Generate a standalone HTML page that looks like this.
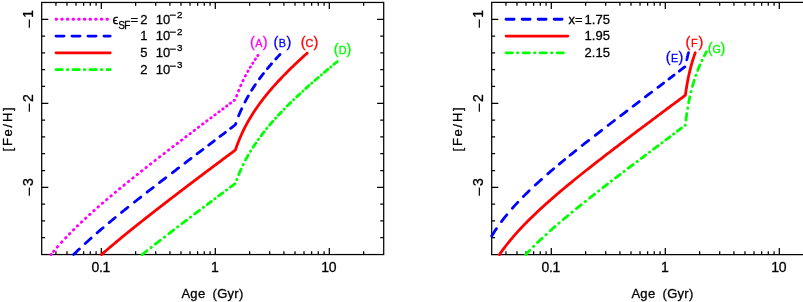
<!DOCTYPE html>
<html><head><meta charset="utf-8"><title>plot</title>
<style>
html,body{margin:0;padding:0;background:#fff;}
body{width:803px;height:302px;overflow:hidden;}
svg{display:block;will-change:transform;}
text{font-family:"Liberation Sans",sans-serif;font-size:13px;fill:#000;stroke:#000;stroke-width:0.3px;}
.tk{font-size:14px;}
.ax{stroke:#000;stroke-width:1.25;fill:none;stroke-linecap:butt;}
.c{fill:none;stroke-width:2.8;stroke-linecap:round;stroke-linejoin:round;}
.mg{stroke:#f0f;} .bl{stroke:#00f;} .rd{stroke:#f00;} .gr{stroke:#0f0;}
.dot{stroke-dasharray:0.7 4.95;}
.dash{stroke-dasharray:8 8;}
.dd{stroke-dasharray:6.3 5 0.5 5.2;}
.sup{font-size:9.8px;}
.sub{font-size:10.1px;}
.mn{font-size:12px;}
.ym{font-size:17px;stroke-width:0;}
.lb{font-size:10.8px;}
.pr{font-size:14.5px;}
</style></head><body>
<svg width="803" height="302" viewBox="0 0 803 302">
<rect width="803" height="302" fill="#fff" stroke="none"/>

<rect class="ax" x="41.70" y="2.45" width="342.00" height="252.10"/>
<path class="ax" d="M55.94 254.55 v-3.40 M55.94 2.45 v3.40 M66.99 254.55 v-3.40 M66.99 2.45 v3.40 M76.02 254.55 v-3.40 M76.02 2.45 v3.40 M83.65 254.55 v-3.40 M83.65 2.45 v3.40 M90.26 254.55 v-3.40 M90.26 2.45 v3.40 M96.09 254.55 v-3.40 M96.09 2.45 v3.40 M101.31 254.55 v-6.60 M101.31 2.45 v6.60 M135.63 254.55 v-3.40 M135.63 2.45 v3.40 M155.70 254.55 v-3.40 M155.70 2.45 v3.40 M169.94 254.55 v-3.40 M169.94 2.45 v3.40 M180.99 254.55 v-3.40 M180.99 2.45 v3.40 M190.02 254.55 v-3.40 M190.02 2.45 v3.40 M197.65 254.55 v-3.40 M197.65 2.45 v3.40 M204.26 254.55 v-3.40 M204.26 2.45 v3.40 M210.09 254.55 v-3.40 M210.09 2.45 v3.40 M215.31 254.55 v-6.60 M215.31 2.45 v6.60 M249.63 254.55 v-3.40 M249.63 2.45 v3.40 M269.70 254.55 v-3.40 M269.70 2.45 v3.40 M283.94 254.55 v-3.40 M283.94 2.45 v3.40 M294.99 254.55 v-3.40 M294.99 2.45 v3.40 M304.02 254.55 v-3.40 M304.02 2.45 v3.40 M311.65 254.55 v-3.40 M311.65 2.45 v3.40 M318.26 254.55 v-3.40 M318.26 2.45 v3.40 M324.09 254.55 v-3.40 M324.09 2.45 v3.40 M329.31 254.55 v-6.60 M329.31 2.45 v6.60 M363.63 254.55 v-3.40 M363.63 2.45 v3.40 M41.70 19.26 h6.60 M383.70 19.26 h-6.60 M41.70 36.06 h3.40 M383.70 36.06 h-3.40 M41.70 52.87 h3.40 M383.70 52.87 h-3.40 M41.70 69.68 h3.40 M383.70 69.68 h-3.40 M41.70 86.48 h3.40 M383.70 86.48 h-3.40 M41.70 103.29 h6.60 M383.70 103.29 h-6.60 M41.70 120.10 h3.40 M383.70 120.10 h-3.40 M41.70 136.90 h3.40 M383.70 136.90 h-3.40 M41.70 153.71 h3.40 M383.70 153.71 h-3.40 M41.70 170.52 h3.40 M383.70 170.52 h-3.40 M41.70 187.32 h6.60 M383.70 187.32 h-6.60 M41.70 204.13 h3.40 M383.70 204.13 h-3.40 M41.70 220.94 h3.40 M383.70 220.94 h-3.40 M41.70 237.74 h3.40 M383.70 237.74 h-3.40"/>
<text class="tk" x="100.81" y="271.6" text-anchor="middle" letter-spacing="-0.35">0.1</text>
<text class="tk" x="214.81" y="271.6" text-anchor="middle" letter-spacing="-0.35">1</text>
<text class="tk" x="328.81" y="271.6" text-anchor="middle" letter-spacing="-0.35">10</text>
<text class="ym" transform="translate(34.50 28.46) rotate(-90)">−</text>
<text class="tk" transform="translate(32.80 17.86) rotate(-90)">1</text>
<text class="ym" transform="translate(34.50 112.49) rotate(-90)">−</text>
<text class="tk" transform="translate(32.80 101.89) rotate(-90)">2</text>
<text class="ym" transform="translate(34.50 196.52) rotate(-90)">−</text>
<text class="tk" transform="translate(32.80 185.92) rotate(-90)">3</text>
<text transform="translate(11.80 128.50) rotate(-90)" text-anchor="middle" letter-spacing="1.75">[Fe/H]</text>
<text x="212.50" y="298" text-anchor="middle" word-spacing="3.2" letter-spacing="0.3">Age (Gyr)</text>
<path class="ax" d="M808.00 2.45 H491.70 V254.55 H808.00"/>
<path class="ax" d="M505.94 254.55 v-3.40 M505.94 2.45 v3.40 M516.99 254.55 v-3.40 M516.99 2.45 v3.40 M526.02 254.55 v-3.40 M526.02 2.45 v3.40 M533.65 254.55 v-3.40 M533.65 2.45 v3.40 M540.26 254.55 v-3.40 M540.26 2.45 v3.40 M546.09 254.55 v-3.40 M546.09 2.45 v3.40 M551.31 254.55 v-6.60 M551.31 2.45 v6.60 M585.63 254.55 v-3.40 M585.63 2.45 v3.40 M605.70 254.55 v-3.40 M605.70 2.45 v3.40 M619.94 254.55 v-3.40 M619.94 2.45 v3.40 M630.99 254.55 v-3.40 M630.99 2.45 v3.40 M640.02 254.55 v-3.40 M640.02 2.45 v3.40 M647.65 254.55 v-3.40 M647.65 2.45 v3.40 M654.26 254.55 v-3.40 M654.26 2.45 v3.40 M660.09 254.55 v-3.40 M660.09 2.45 v3.40 M665.31 254.55 v-6.60 M665.31 2.45 v6.60 M699.63 254.55 v-3.40 M699.63 2.45 v3.40 M719.70 254.55 v-3.40 M719.70 2.45 v3.40 M733.94 254.55 v-3.40 M733.94 2.45 v3.40 M744.99 254.55 v-3.40 M744.99 2.45 v3.40 M754.02 254.55 v-3.40 M754.02 2.45 v3.40 M761.65 254.55 v-3.40 M761.65 2.45 v3.40 M768.26 254.55 v-3.40 M768.26 2.45 v3.40 M774.09 254.55 v-3.40 M774.09 2.45 v3.40 M779.31 254.55 v-6.60 M779.31 2.45 v6.60 M491.70 19.26 h6.60 M491.70 36.06 h3.40 M491.70 52.87 h3.40 M491.70 69.68 h3.40 M491.70 86.48 h3.40 M491.70 103.29 h6.60 M491.70 120.10 h3.40 M491.70 136.90 h3.40 M491.70 153.71 h3.40 M491.70 170.52 h3.40 M491.70 187.32 h6.60 M491.70 204.13 h3.40 M491.70 220.94 h3.40 M491.70 237.74 h3.40"/>
<text class="tk" x="550.81" y="271.6" text-anchor="middle" letter-spacing="-0.35">0.1</text>
<text class="tk" x="664.81" y="271.6" text-anchor="middle" letter-spacing="-0.35">1</text>
<text class="tk" x="778.81" y="271.6" text-anchor="middle" letter-spacing="-0.35">10</text>
<text class="ym" transform="translate(484.50 28.46) rotate(-90)">−</text>
<text class="tk" transform="translate(482.80 17.86) rotate(-90)">1</text>
<text class="ym" transform="translate(484.50 112.49) rotate(-90)">−</text>
<text class="tk" transform="translate(482.80 101.89) rotate(-90)">2</text>
<text class="ym" transform="translate(484.50 196.52) rotate(-90)">−</text>
<text class="tk" transform="translate(482.80 185.92) rotate(-90)">3</text>
<text transform="translate(461.80 128.50) rotate(-90)" text-anchor="middle" letter-spacing="1.75">[Fe/H]</text>
<text x="662.50" y="298" text-anchor="middle" word-spacing="3.2" letter-spacing="0.3">Age (Gyr)</text>
<path class="c mg" d="M51.00 254.60 L52.55 252.69 L54.10 250.82 L55.65 248.99 L57.20 247.18 L58.75 245.42 L60.30 243.67 L61.85 241.96 L63.40 240.28 L64.95 238.61 L66.50 236.97 L68.05 235.36 L69.60 233.76 L71.15 232.18 L72.69 230.62 L74.24 229.08 L75.79 227.55 L77.34 226.04 L78.89 224.55 L80.44 223.07 L81.99 221.60 L83.54 220.14 L85.09 218.70 L86.64 217.27 L88.19 215.85 L89.74 214.44 L91.29 213.04 L92.84 211.65 L94.39 210.27 L95.94 208.89 L97.49 207.53 L99.03 206.17 L100.58 204.83 L102.13 203.48 L103.68 202.15 L105.23 200.82 L106.78 199.50 L108.33 198.19 L109.88 196.88 L111.43 195.58 L112.98 194.28 L114.53 192.99 L116.08 191.70 L117.63 190.42 L119.18 189.14 L120.73 187.87 L122.28 186.60 L123.83 185.33 L125.37 184.07 L126.92 182.82 L128.47 181.56 L130.02 180.31 L131.57 179.07 L133.12 177.83 L134.67 176.59 L136.22 175.35 L137.77 174.12 L139.32 172.89 L140.87 171.66 L142.42 170.43 L143.97 169.21 L145.52 167.99 L147.07 166.77 L148.62 165.56 L150.17 164.34 L151.71 163.13 L153.26 161.92 L154.81 160.72 L156.36 159.51 L157.91 158.31 L159.46 157.11 L161.01 155.91 L162.56 154.71 L164.11 153.51 L165.66 152.32 L167.21 151.12 L168.76 149.93 L170.31 148.74 L171.86 147.55 L173.41 146.36 L174.96 145.18 L176.51 143.99 L178.05 142.81 L179.60 141.62 L181.15 140.44 L182.70 139.26 L184.25 138.08 L185.80 136.90 L187.35 135.72 L188.90 134.55 L190.45 133.37 L192.00 132.19 L193.55 131.02 L195.10 129.85 L196.65 128.67 L198.20 127.50 L199.75 126.33 L201.30 125.16 L202.85 123.99 L204.39 122.82 L205.94 121.65 L207.49 120.48 L209.04 119.31 L210.59 118.14 L212.14 116.98 L213.69 115.81 L215.24 114.64 L216.79 113.48 L218.34 112.31 L219.89 111.15 L221.44 109.98 L222.99 108.82 L224.54 107.66 L226.09 106.49 L227.64 105.33 L229.18 104.17 L230.73 103.01 L232.28 101.85 L233.83 100.68 L235.38 99.52 L235.77 98.39 L236.15 97.28 L236.53 96.19 L236.92 95.13 L237.30 94.09 L237.69 93.07 L238.07 92.07 L238.45 91.09 L238.84 90.13 L239.22 89.19 L239.61 88.26 L239.99 87.35 L240.37 86.45 L240.76 85.57 L241.14 84.70 L241.53 83.85 L241.91 83.01 L242.29 82.18 L242.68 81.36 L243.06 80.56 L243.45 79.76 L243.83 78.98 L244.21 78.21 L244.60 77.45 L244.98 76.70 L245.37 75.95 L245.75 75.22 L246.13 74.50 L246.52 73.78 L246.90 73.07 L247.29 72.37 L247.67 71.68 L248.05 71.00 L248.44 70.32 L248.82 69.65 L249.21 68.99 L249.59 68.33 L249.97 67.68 L250.36 67.04 L250.74 66.40 L251.13 65.77 L251.51 65.15 L251.89 64.53 L252.28 63.91 L252.66 63.31 L253.05 62.70 L253.43 62.11 L253.81 61.51 L254.20 60.93 L254.58 60.34 L254.97 59.77 L255.35 59.19 L255.73 58.62 L256.12 58.06 L256.50 57.50 L256.89 56.94 L257.27 56.39 L257.65 55.84 L258.04 55.30" style="stroke-dasharray:0.36 3.70 0.64 5.03 0.77 5.56 0.79 5.28 0.69 4.86 0.69 4.85 0.69 4.87 0.69 4.89 0.69 4.91 0.70 4.92 0.70 4.93 0.70 4.94 0.70 4.94 0.70 4.95 0.70 4.95 0.70 4.95 0.70 4.95 0.70 4.95 0.70 4.95 0.70 4.94 0.70 4.94 0.70 4.94 0.70 4.94 0.70 4.96 0.70 5.00 0.71 5.04 0.71 5.00 0.70 4.91 0.68 4.82 0.68 4.79 0.68 4.75 0.67 4.72 0.67 4.68 0.66 4.65 0.66 4.61 0.65 4.57 0.64 4.53 0.64 4.48 0.63 4.44 0.62 4.35 0.61 4.25 0.60 4.21 0.60 4.10 0.58 4.21 0.63 4.65 0.68 4.89 0.69 4.83 0.67 4.70 0.66 4.64 0.65 4.48 0.62 4.26 0.59 4.11 0.58 4.05 0.57 4.08 0.58 999.00"/>
<path class="c bl" d="M73.61 254.60 L74.97 253.25 L76.32 251.92 L77.68 250.59 L79.04 249.28 L80.40 247.99 L81.76 246.70 L83.12 245.43 L84.48 244.16 L85.84 242.91 L87.20 241.66 L88.56 240.43 L89.92 239.20 L91.28 237.98 L92.64 236.77 L94.00 235.57 L95.36 234.37 L96.72 233.19 L98.08 232.00 L99.44 230.83 L100.80 229.66 L102.15 228.50 L103.51 227.34 L104.87 226.19 L106.23 225.04 L107.59 223.90 L108.95 222.76 L110.31 221.63 L111.67 220.50 L113.03 219.37 L114.39 218.25 L115.75 217.14 L117.11 216.02 L118.47 214.92 L119.83 213.81 L121.19 212.71 L122.55 211.61 L123.91 210.51 L125.27 209.42 L126.63 208.33 L127.98 207.24 L129.34 206.16 L130.70 205.08 L132.06 204.00 L133.42 202.92 L134.78 201.84 L136.14 200.77 L137.50 199.70 L138.86 198.63 L140.22 197.56 L141.58 196.50 L142.94 195.43 L144.30 194.37 L145.66 193.31 L147.02 192.25 L148.38 191.20 L149.74 190.14 L151.10 189.08 L152.45 188.03 L153.81 186.98 L155.17 185.93 L156.53 184.88 L157.89 183.83 L159.25 182.78 L160.61 181.73 L161.97 180.69 L163.33 179.64 L164.69 178.60 L166.05 177.55 L167.41 176.51 L168.77 175.47 L170.13 174.43 L171.49 173.39 L172.85 172.35 L174.21 171.31 L175.57 170.27 L176.93 169.23 L178.28 168.19 L179.64 167.15 L181.00 166.12 L182.36 165.08 L183.72 164.04 L185.08 163.01 L186.44 161.97 L187.80 160.94 L189.16 159.90 L190.52 158.87 L191.88 157.83 L193.24 156.80 L194.60 155.76 L195.96 154.73 L197.32 153.69 L198.68 152.66 L200.04 151.62 L201.40 150.59 L202.76 149.56 L204.11 148.52 L205.47 147.49 L206.83 146.45 L208.19 145.42 L209.55 144.39 L210.91 143.35 L212.27 142.32 L213.63 141.28 L214.99 140.25 L216.35 139.22 L217.71 138.18 L219.07 137.15 L220.43 136.11 L221.79 135.08 L223.15 134.04 L224.51 133.01 L225.87 131.97 L227.23 130.94 L228.59 129.90 L229.94 128.86 L231.30 127.83 L232.66 126.79 L234.02 125.75 L235.38 124.72 L236.14 122.51 L236.89 120.40 L237.65 118.38 L238.41 116.43 L239.16 114.56 L239.92 112.75 L240.68 111.01 L241.43 109.32 L242.19 107.68 L242.94 106.08 L243.70 104.53 L244.46 103.03 L245.21 101.56 L245.97 100.13 L246.73 98.73 L247.48 97.36 L248.24 96.02 L248.99 94.72 L249.75 93.43 L250.51 92.18 L251.26 90.94 L252.02 89.73 L252.78 88.54 L253.53 87.37 L254.29 86.23 L255.04 85.10 L255.80 83.98 L256.56 82.89 L257.31 81.81 L258.07 80.74 L258.82 79.69 L259.58 78.66 L260.34 77.64 L261.09 76.63 L261.85 75.63 L262.61 74.65 L263.36 73.67 L264.12 72.71 L264.87 71.76 L265.63 70.82 L266.39 69.89 L267.14 68.97 L267.90 68.06 L268.66 67.15 L269.41 66.26 L270.17 65.37 L270.92 64.49 L271.68 63.62 L272.44 62.76 L273.19 61.91 L273.95 61.06 L274.70 60.22 L275.46 59.38 L276.22 58.55 L276.97 57.73 L277.73 56.91 L278.49 56.10 L279.24 55.30 L280.00 54.50" style="stroke-dasharray:8.08 8.04 7.98 7.91 7.89 7.92 7.99 8.05 8.21 8.36 8.13 7.91 7.85 7.80 7.99 8.18 8.02 7.87 7.70 7.55 7.37 7.24 7.13 7.02 6.82 6.59 7.32 8.12 7.77 7.42 6.97 6.55 6.80 7.07 6.67 6.30 6.33 6.36 6.36 999.00"/>
<path class="c rd" d="M101.49 254.60 L102.61 253.62 L103.74 252.64 L104.86 251.67 L105.99 250.70 L107.11 249.73 L108.24 248.77 L109.36 247.81 L110.49 246.85 L111.61 245.90 L112.74 244.95 L113.86 244.00 L114.99 243.06 L116.11 242.12 L117.24 241.18 L118.36 240.25 L119.49 239.31 L120.61 238.38 L121.74 237.46 L122.87 236.53 L123.99 235.61 L125.12 234.69 L126.24 233.77 L127.37 232.86 L128.49 231.94 L129.62 231.03 L130.74 230.12 L131.87 229.21 L132.99 228.31 L134.12 227.40 L135.24 226.50 L136.37 225.60 L137.49 224.70 L138.62 223.81 L139.74 222.91 L140.87 222.02 L141.99 221.12 L143.12 220.23 L144.24 219.34 L145.37 218.46 L146.49 217.57 L147.62 216.69 L148.74 215.80 L149.87 214.92 L150.99 214.04 L152.12 213.16 L153.24 212.28 L154.37 211.40 L155.50 210.52 L156.62 209.65 L157.75 208.78 L158.87 207.90 L160.00 207.03 L161.12 206.16 L162.25 205.29 L163.37 204.42 L164.50 203.55 L165.62 202.68 L166.75 201.82 L167.87 200.95 L169.00 200.08 L170.12 199.22 L171.25 198.36 L172.37 197.49 L173.50 196.63 L174.62 195.77 L175.75 194.91 L176.87 194.05 L178.00 193.19 L179.12 192.33 L180.25 191.48 L181.37 190.62 L182.50 189.76 L183.62 188.91 L184.75 188.05 L185.87 187.20 L187.00 186.34 L188.13 185.49 L189.25 184.64 L190.38 183.78 L191.50 182.93 L192.63 182.08 L193.75 181.23 L194.88 180.38 L196.00 179.53 L197.13 178.68 L198.25 177.83 L199.38 176.98 L200.50 176.13 L201.63 175.28 L202.75 174.44 L203.88 173.59 L205.00 172.74 L206.13 171.89 L207.25 171.05 L208.38 170.20 L209.50 169.36 L210.63 168.51 L211.75 167.67 L212.88 166.82 L214.00 165.98 L215.13 165.14 L216.25 164.29 L217.38 163.45 L218.50 162.61 L219.63 161.76 L220.76 160.92 L221.88 160.08 L223.01 159.24 L224.13 158.39 L225.26 157.55 L226.38 156.71 L227.51 155.87 L228.63 155.03 L229.76 154.19 L230.88 153.35 L232.01 152.51 L233.13 151.67 L234.26 150.83 L235.38 149.99 L236.60 146.49 L237.82 143.22 L239.03 140.15 L240.25 137.24 L241.47 134.49 L242.69 131.87 L243.90 129.37 L245.12 126.96 L246.34 124.66 L247.56 122.44 L248.77 120.29 L249.99 118.22 L251.21 116.21 L252.42 114.25 L253.64 112.36 L254.86 110.51 L256.08 108.71 L257.29 106.95 L258.51 105.23 L259.73 103.55 L260.94 101.90 L262.16 100.29 L263.38 98.70 L264.60 97.15 L265.81 95.62 L267.03 94.12 L268.25 92.64 L269.47 91.19 L270.68 89.76 L271.90 88.34 L273.12 86.95 L274.33 85.57 L275.55 84.22 L276.77 82.88 L277.99 81.55 L279.20 80.24 L280.42 78.95 L281.64 77.67 L282.86 76.40 L284.07 75.14 L285.29 73.90 L286.51 72.67 L287.72 71.45 L288.94 70.23 L290.16 69.03 L291.38 67.84 L292.59 66.66 L293.81 65.49 L295.03 64.33 L296.25 63.17 L297.46 62.02 L298.68 60.88 L299.90 59.75 L301.11 58.63 L302.33 57.51 L303.55 56.40 L304.77 55.29 L305.98 54.19 L307.20 53.10"/>
<path class="c gr" d="M142.12 254.60 L142.90 253.98 L143.69 253.35 L144.47 252.73 L145.26 252.11 L146.04 251.49 L146.82 250.87 L147.61 250.25 L148.39 249.63 L149.17 249.01 L149.96 248.39 L150.74 247.77 L151.53 247.16 L152.31 246.54 L153.09 245.92 L153.88 245.31 L154.66 244.70 L155.44 244.08 L156.23 243.47 L157.01 242.86 L157.80 242.24 L158.58 241.63 L159.36 241.02 L160.15 240.41 L160.93 239.80 L161.71 239.19 L162.50 238.58 L163.28 237.98 L164.06 237.37 L164.85 236.76 L165.63 236.16 L166.42 235.55 L167.20 234.94 L167.98 234.34 L168.77 233.73 L169.55 233.13 L170.33 232.52 L171.12 231.92 L171.90 231.32 L172.69 230.72 L173.47 230.11 L174.25 229.51 L175.04 228.91 L175.82 228.31 L176.60 227.71 L177.39 227.11 L178.17 226.51 L178.96 225.91 L179.74 225.31 L180.52 224.71 L181.31 224.11 L182.09 223.51 L182.87 222.92 L183.66 222.32 L184.44 221.72 L185.23 221.12 L186.01 220.53 L186.79 219.93 L187.58 219.34 L188.36 218.74 L189.14 218.15 L189.93 217.55 L190.71 216.96 L191.49 216.36 L192.28 215.77 L193.06 215.17 L193.85 214.58 L194.63 213.99 L195.41 213.39 L196.20 212.80 L196.98 212.21 L197.76 211.62 L198.55 211.03 L199.33 210.43 L200.12 209.84 L200.90 209.25 L201.68 208.66 L202.47 208.07 L203.25 207.48 L204.03 206.89 L204.82 206.30 L205.60 205.71 L206.39 205.12 L207.17 204.53 L207.95 203.94 L208.74 203.36 L209.52 202.77 L210.30 202.18 L211.09 201.59 L211.87 201.00 L212.65 200.42 L213.44 199.83 L214.22 199.24 L215.01 198.65 L215.79 198.07 L216.57 197.48 L217.36 196.89 L218.14 196.31 L218.92 195.72 L219.71 195.14 L220.49 194.55 L221.28 193.97 L222.06 193.38 L222.84 192.79 L223.63 192.21 L224.41 191.62 L225.19 191.04 L225.98 190.46 L226.76 189.87 L227.55 189.29 L228.33 188.70 L229.11 188.12 L229.90 187.54 L230.68 186.95 L231.46 186.37 L232.25 185.79 L233.03 185.20 L233.82 184.62 L234.60 184.04 L235.38 183.46 L237.11 178.66 L238.84 174.28 L240.56 170.24 L242.29 166.48 L244.02 162.95 L245.74 159.62 L247.47 156.47 L249.20 153.47 L250.92 150.60 L252.65 147.85 L254.38 145.20 L256.10 142.65 L257.83 140.19 L259.56 137.79 L261.28 135.47 L263.01 133.21 L264.74 131.01 L266.46 128.87 L268.19 126.77 L269.92 124.72 L271.64 122.71 L273.37 120.73 L275.10 118.80 L276.82 116.90 L278.55 115.03 L280.28 113.18 L282.00 111.37 L283.73 109.58 L285.46 107.82 L287.18 106.08 L288.91 104.36 L290.64 102.66 L292.36 100.98 L294.09 99.32 L295.82 97.67 L297.54 96.04 L299.27 94.43 L301.00 92.83 L302.72 91.24 L304.45 89.67 L306.18 88.11 L307.90 86.56 L309.63 85.03 L311.36 83.50 L313.08 81.98 L314.81 80.48 L316.54 78.98 L318.26 77.49 L319.99 76.01 L321.72 74.54 L323.44 73.07 L325.17 71.62 L326.90 70.17 L328.62 68.72 L330.35 67.29 L332.08 65.86 L333.80 64.43 L335.53 63.01 L337.26 61.60" style="stroke-dasharray:6.24 4.97 0.50 5.20 6.32 4.98 0.49 5.14 6.18 4.85 0.48 4.96 5.94 4.72 0.47 5.01 6.07 4.63 0.45 4.51 5.26 4.18 0.42 4.40 5.34 4.31 0.44 4.59 5.66 4.58 0.46 4.93 6.09 4.74 0.46 4.78 5.68 4.39 0.43 4.42 5.22 4.10 0.41 4.24 5.08 4.02 0.40 4.21 5.08 3.92 0.38 3.86 4.56 3.70 0.38 4.05 5.02 3.90 0.38 3.92 4.66 3.64 0.36 3.69 4.40 3.54 0.36 3.80 4.67 3.70 0.37 3.81 4.61 3.66 0.37 3.81 4.61 999.00"/>
<path class="c bl" d="M491.70 236.03 L493.33 233.39 L494.96 230.85 L496.58 228.41 L498.21 226.06 L499.84 223.78 L501.47 221.58 L503.09 219.44 L504.72 217.36 L506.35 215.34 L507.98 213.36 L509.60 211.43 L511.23 209.54 L512.86 207.69 L514.49 205.88 L516.11 204.10 L517.74 202.35 L519.37 200.63 L521.00 198.94 L522.62 197.28 L524.25 195.63 L525.88 194.01 L527.51 192.41 L529.13 190.83 L530.76 189.27 L532.39 187.73 L534.02 186.20 L535.64 184.69 L537.27 183.20 L538.90 181.71 L540.53 180.25 L542.16 178.79 L543.78 177.34 L545.41 175.91 L547.04 174.49 L548.67 173.07 L550.29 171.67 L551.92 170.27 L553.55 168.89 L555.18 167.51 L556.80 166.14 L558.43 164.78 L560.06 163.42 L561.69 162.07 L563.31 160.73 L564.94 159.39 L566.57 158.06 L568.20 156.74 L569.82 155.41 L571.45 154.10 L573.08 152.79 L574.71 151.48 L576.33 150.18 L577.96 148.88 L579.59 147.59 L581.22 146.29 L582.84 145.01 L584.47 143.72 L586.10 142.44 L587.73 141.16 L589.36 139.89 L590.98 138.62 L592.61 137.35 L594.24 136.08 L595.87 134.81 L597.49 133.55 L599.12 132.29 L600.75 131.03 L602.38 129.77 L604.00 128.51 L605.63 127.26 L607.26 126.01 L608.89 124.76 L610.51 123.51 L612.14 122.26 L613.77 121.01 L615.40 119.76 L617.02 118.52 L618.65 117.27 L620.28 116.03 L621.91 114.79 L623.53 113.54 L625.16 112.30 L626.79 111.06 L628.42 109.82 L630.04 108.58 L631.67 107.34 L633.30 106.10 L634.93 104.87 L636.56 103.63 L638.18 102.39 L639.81 101.15 L641.44 99.91 L643.07 98.68 L644.69 97.44 L646.32 96.20 L647.95 94.97 L649.58 93.73 L651.20 92.49 L652.83 91.26 L654.46 90.02 L656.09 88.78 L657.71 87.54 L659.34 86.31 L660.97 85.07 L662.60 83.83 L664.22 82.59 L665.85 81.35 L667.48 80.11 L669.11 78.87 L670.73 77.63 L672.36 76.39 L673.99 75.15 L675.62 73.91 L677.24 72.67 L678.87 71.43 L680.50 70.19 L682.13 68.95 L683.75 67.70 L685.38 66.46 L685.44 66.18 L685.49 65.90 L685.54 65.63 L685.60 65.35 L685.65 65.08 L685.70 64.81 L685.75 64.54 L685.81 64.27 L685.86 64.01 L685.91 63.74 L685.97 63.48 L686.02 63.22 L686.07 62.96 L686.13 62.71 L686.18 62.45 L686.23 62.20 L686.29 61.94 L686.34 61.69 L686.39 61.44 L686.44 61.20 L686.50 60.95 L686.55 60.70 L686.60 60.46 L686.66 60.22 L686.71 59.98 L686.76 59.74 L686.82 59.50 L686.87 59.26 L686.92 59.03 L686.98 58.79 L687.03 58.56 L687.08 58.33 L687.14 58.10 L687.19 57.87 L687.24 57.64 L687.29 57.41 L687.35 57.19 L687.40 56.96 L687.45 56.74 L687.51 56.52 L687.56 56.30 L687.61 56.08 L687.67 55.86 L687.72 55.64 L687.77 55.42 L687.83 55.21 L687.88 54.99 L687.93 54.78 L687.98 54.57 L688.04 54.36 L688.09 54.15 L688.14 53.94 L688.20 53.73 L688.25 53.52 L688.30 53.32 L688.36 53.11 L688.41 52.91 L688.46 52.70 L688.52 52.50" style="stroke-dasharray:8.78 8.68 8.61 8.53 8.21 7.91 8.18 8.44 8.40 8.35 7.79 7.27 7.05 6.83 7.50 8.22 8.21 8.19 8.18 8.17 8.01 7.85 7.82 7.79 7.75 7.71 7.81 7.91 7.21 6.57 6.55 6.53 6.97 7.45 7.41 999.00"/>
<path class="c rd" d="M499.46 254.60 L501.02 252.36 L502.58 250.18 L504.15 248.07 L505.71 246.02 L507.27 244.01 L508.83 242.06 L510.39 240.15 L511.96 238.28 L513.52 236.45 L515.08 234.65 L516.64 232.89 L518.21 231.16 L519.77 229.46 L521.33 227.78 L522.89 226.13 L524.46 224.50 L526.02 222.90 L527.58 221.32 L529.14 219.75 L530.71 218.21 L532.27 216.68 L533.83 215.17 L535.39 213.68 L536.96 212.20 L538.52 210.74 L540.08 209.29 L541.64 207.85 L543.21 206.42 L544.77 205.01 L546.33 203.61 L547.89 202.22 L549.45 200.83 L551.02 199.46 L552.58 198.10 L554.14 196.74 L555.70 195.40 L557.27 194.06 L558.83 192.73 L560.39 191.41 L561.95 190.09 L563.52 188.78 L565.08 187.48 L566.64 186.18 L568.20 184.89 L569.77 183.60 L571.33 182.32 L572.89 181.05 L574.45 179.78 L576.02 178.51 L577.58 177.25 L579.14 176.00 L580.70 174.74 L582.26 173.49 L583.83 172.25 L585.39 171.01 L586.95 169.77 L588.51 168.54 L590.08 167.31 L591.64 166.08 L593.20 164.85 L594.76 163.63 L596.33 162.41 L597.89 161.20 L599.45 159.98 L601.01 158.77 L602.58 157.56 L604.14 156.36 L605.70 155.15 L607.26 153.95 L608.83 152.75 L610.39 151.55 L611.95 150.35 L613.51 149.16 L615.07 147.96 L616.64 146.77 L618.20 145.58 L619.76 144.39 L621.32 143.20 L622.89 142.02 L624.45 140.83 L626.01 139.65 L627.57 138.47 L629.14 137.28 L630.70 136.10 L632.26 134.92 L633.82 133.75 L635.39 132.57 L636.95 131.39 L638.51 130.22 L640.07 129.04 L641.64 127.87 L643.20 126.69 L644.76 125.52 L646.32 124.35 L647.89 123.18 L649.45 122.01 L651.01 120.84 L652.57 119.67 L654.13 118.50 L655.70 117.33 L657.26 116.16 L658.82 115.00 L660.38 113.83 L661.95 112.66 L663.51 111.50 L665.07 110.33 L666.63 109.16 L668.20 108.00 L669.76 106.83 L671.32 105.67 L672.88 104.50 L674.45 103.34 L676.01 102.18 L677.57 101.01 L679.13 99.85 L680.70 98.68 L682.26 97.52 L683.82 96.36 L685.38 95.19 L685.55 93.97 L685.72 92.78 L685.88 91.63 L686.05 90.50 L686.22 89.41 L686.38 88.35 L686.55 87.31 L686.72 86.31 L686.88 85.32 L687.05 84.36 L687.21 83.42 L687.38 82.50 L687.55 81.60 L687.71 80.72 L687.88 79.86 L688.05 79.01 L688.21 78.19 L688.38 77.38 L688.55 76.58 L688.71 75.80 L688.88 75.03 L689.05 74.28 L689.21 73.54 L689.38 72.81 L689.55 72.09 L689.71 71.39 L689.88 70.70 L690.05 70.02 L690.21 69.34 L690.38 68.68 L690.55 68.03 L690.71 67.39 L690.88 66.76 L691.05 66.13 L691.21 65.52 L691.38 64.91 L691.55 64.31 L691.71 63.72 L691.88 63.14 L692.04 62.56 L692.21 61.99 L692.38 61.43 L692.54 60.88 L692.71 60.33 L692.88 59.79 L693.04 59.25 L693.21 58.72 L693.38 58.20 L693.54 57.68 L693.71 57.17 L693.88 56.67 L694.04 56.16 L694.21 55.67 L694.38 55.18 L694.54 54.69 L694.71 54.21 L694.88 53.74 L695.04 53.27 L695.21 52.80"/>
<path class="c gr" d="M525.69 254.60 L527.03 253.17 L528.38 251.76 L529.72 250.36 L531.06 248.99 L532.40 247.63 L533.74 246.29 L535.09 244.96 L536.43 243.64 L537.77 242.34 L539.11 241.05 L540.45 239.78 L541.80 238.51 L543.14 237.26 L544.48 236.01 L545.82 234.78 L547.16 233.56 L548.51 232.34 L549.85 231.14 L551.19 229.94 L552.53 228.75 L553.87 227.57 L555.22 226.39 L556.56 225.23 L557.90 224.07 L559.24 222.91 L560.58 221.77 L561.92 220.62 L563.27 219.49 L564.61 218.36 L565.95 217.23 L567.29 216.11 L568.63 214.99 L569.98 213.88 L571.32 212.78 L572.66 211.67 L574.00 210.58 L575.34 209.48 L576.69 208.39 L578.03 207.30 L579.37 206.22 L580.71 205.14 L582.05 204.06 L583.40 202.99 L584.74 201.92 L586.08 200.85 L587.42 199.79 L588.76 198.73 L590.11 197.67 L591.45 196.61 L592.79 195.55 L594.13 194.50 L595.47 193.45 L596.82 192.40 L598.16 191.35 L599.50 190.31 L600.84 189.27 L602.18 188.22 L603.52 187.19 L604.87 186.15 L606.21 185.11 L607.55 184.08 L608.89 183.04 L610.23 182.01 L611.58 180.98 L612.92 179.95 L614.26 178.92 L615.60 177.89 L616.94 176.87 L618.29 175.84 L619.63 174.82 L620.97 173.80 L622.31 172.77 L623.65 171.75 L625.00 170.73 L626.34 169.71 L627.68 168.69 L629.02 167.67 L630.36 166.66 L631.71 165.64 L633.05 164.62 L634.39 163.61 L635.73 162.59 L637.07 161.58 L638.41 160.56 L639.76 159.55 L641.10 158.54 L642.44 157.52 L643.78 156.51 L645.12 155.50 L646.47 154.48 L647.81 153.47 L649.15 152.46 L650.49 151.45 L651.83 150.44 L653.18 149.43 L654.52 148.42 L655.86 147.41 L657.20 146.39 L658.54 145.38 L659.89 144.37 L661.23 143.36 L662.57 142.35 L663.91 141.34 L665.25 140.33 L666.60 139.32 L667.94 138.31 L669.28 137.30 L670.62 136.29 L671.96 135.28 L673.31 134.27 L674.65 133.26 L675.99 132.25 L677.33 131.24 L678.67 130.23 L680.01 129.21 L681.36 128.20 L682.70 127.19 L684.04 126.18 L685.38 125.17 L685.74 121.99 L686.10 119.04 L686.45 116.31 L686.81 113.75 L687.17 111.34 L687.52 109.08 L687.88 106.93 L688.24 104.89 L688.59 102.95 L688.95 101.10 L689.31 99.32 L689.66 97.62 L690.02 95.98 L690.38 94.41 L690.73 92.89 L691.09 91.42 L691.45 90.00 L691.81 88.62 L692.16 87.29 L692.52 86.00 L692.88 84.74 L693.23 83.52 L693.59 82.33 L693.95 81.17 L694.30 80.03 L694.66 78.93 L695.02 77.85 L695.37 76.79 L695.73 75.76 L696.09 74.75 L696.44 73.76 L696.80 72.79 L697.16 71.84 L697.51 70.91 L697.87 70.00 L698.23 69.10 L698.58 68.22 L698.94 67.35 L699.30 66.50 L699.66 65.66 L700.01 64.83 L700.37 64.02 L700.73 63.22 L701.08 62.43 L701.44 61.65 L701.80 60.89 L702.15 60.14 L702.51 59.39 L702.87 58.66 L703.22 57.93 L703.58 57.22 L703.94 56.51 L704.29 55.81 L704.65 55.13 L705.01 54.44 L705.36 53.77 L705.72 53.11 L706.08 52.45 L706.43 51.80" style="stroke-dasharray:6.16 4.96 0.50 5.24 6.42 5.09 0.51 5.27 6.39 5.05 0.50 5.24 6.34 5.02 0.50 5.20 6.28 4.99 0.50 5.24 6.36 4.96 0.49 5.02 5.97 4.71 0.47 4.85 5.84 4.69 0.47 5.02 6.15 4.79 0.47 4.81 5.72 4.54 0.46 4.78 5.79 4.51 0.44 4.54 5.40 4.27 0.43 4.37 5.28 4.43 0.46 5.09 6.52 5.14 0.50 5.17 6.22 4.96 0.50 5.25 6.39 4.97 0.49 5.00 5.93 4.71 0.47 4.93 5.97 999.00"/>
<path class="c mg dot" d="M56.00 19.26 H110.20"/>
<path class="c bl dash" d="M56.00 36.06 H110.20"/>
<path class="c rd" d="M56.00 52.87 H110.20"/>
<path class="c gr dd" d="M56.00 69.68 H110.20"/>
<path class="c bl dash" d="M506.10 19.26 H567.80"/>
<path class="c rd" d="M506.10 36.06 H567.80"/>
<path class="c gr dd" d="M506.10 52.87 H567.80"/>
<text x="112.6" y="23.6">ϵ</text>
<text class="sub" x="118.3" y="28.8" letter-spacing="-0.7">SF</text>
<text x="130.6" y="23.6">=</text>
<text x="147.4" y="23.66" text-anchor="end">2</text>
<text x="155.8" y="23.66">10</text>
<text class="mn" x="169.0" y="19.36">−</text>
<text class="sup" x="176.9" y="17.76">2</text>
<text x="147.4" y="40.46" text-anchor="end">1</text>
<text x="155.8" y="40.46">10</text>
<text class="mn" x="169.0" y="36.16">−</text>
<text class="sup" x="176.9" y="34.56">2</text>
<text x="147.4" y="57.27" text-anchor="end">5</text>
<text x="155.8" y="57.27">10</text>
<text class="mn" x="169.0" y="52.97">−</text>
<text class="sup" x="176.9" y="51.37">3</text>
<text x="147.4" y="74.08" text-anchor="end">2</text>
<text x="155.8" y="74.08">10</text>
<text class="mn" x="169.0" y="69.78">−</text>
<text class="sup" x="176.9" y="68.18">3</text>
<text x="609.9" y="23.66" text-anchor="end">1.75</text>
<text x="568.4" y="23.66">x</text>
<text x="575.0" y="23.66">=</text>
<text x="609.9" y="40.46" text-anchor="end">1.95</text>
<text x="609.9" y="57.27" text-anchor="end">2.15</text>
<text class="pr" x="254.80" y="46.80" text-anchor="end" style="fill:#f0f;stroke:#f0f">(</text>
<text class="lb" x="258.80" y="46.90" text-anchor="middle" style="fill:#f0f;stroke:#f0f">A</text>
<text class="pr" x="262.80" y="46.80" text-anchor="start" style="fill:#f0f;stroke:#f0f">)</text>
<text class="pr" x="278.40" y="46.80" text-anchor="end" style="fill:#00f;stroke:#00f">(</text>
<text class="lb" x="282.40" y="46.90" text-anchor="middle" style="fill:#00f;stroke:#00f">B</text>
<text class="pr" x="286.40" y="46.80" text-anchor="start" style="fill:#00f;stroke:#00f">)</text>
<text class="pr" x="305.50" y="46.80" text-anchor="end" style="fill:#f00;stroke:#f00">(</text>
<text class="lb" x="309.50" y="46.90" text-anchor="middle" style="fill:#f00;stroke:#f00">C</text>
<text class="pr" x="313.50" y="46.80" text-anchor="start" style="fill:#f00;stroke:#f00">)</text>
<text class="pr" x="338.60" y="53.50" text-anchor="end" style="fill:#0f0;stroke:#0f0">(</text>
<text class="lb" x="342.60" y="53.60" text-anchor="middle" style="fill:#0f0;stroke:#0f0">D</text>
<text class="pr" x="346.60" y="53.50" text-anchor="start" style="fill:#0f0;stroke:#0f0">)</text>
<text class="pr" x="670.60" y="61.60" text-anchor="end" style="fill:#00f;stroke:#00f">(</text>
<text class="lb" x="674.60" y="61.70" text-anchor="middle" style="fill:#00f;stroke:#00f">E</text>
<text class="pr" x="678.60" y="61.60" text-anchor="start" style="fill:#00f;stroke:#00f">)</text>
<text class="pr" x="690.40" y="46.80" text-anchor="end" style="fill:#f00;stroke:#f00">(</text>
<text class="lb" x="694.40" y="46.90" text-anchor="middle" style="fill:#f00;stroke:#f00">F</text>
<text class="pr" x="698.40" y="46.80" text-anchor="start" style="fill:#f00;stroke:#f00">)</text>
<text class="pr" x="712.60" y="53.30" text-anchor="end" style="fill:#0f0;stroke:#0f0">(</text>
<text class="lb" x="716.60" y="53.40" text-anchor="middle" style="fill:#0f0;stroke:#0f0">G</text>
<text class="pr" x="720.60" y="53.30" text-anchor="start" style="fill:#0f0;stroke:#0f0">)</text>
</svg></body></html>
